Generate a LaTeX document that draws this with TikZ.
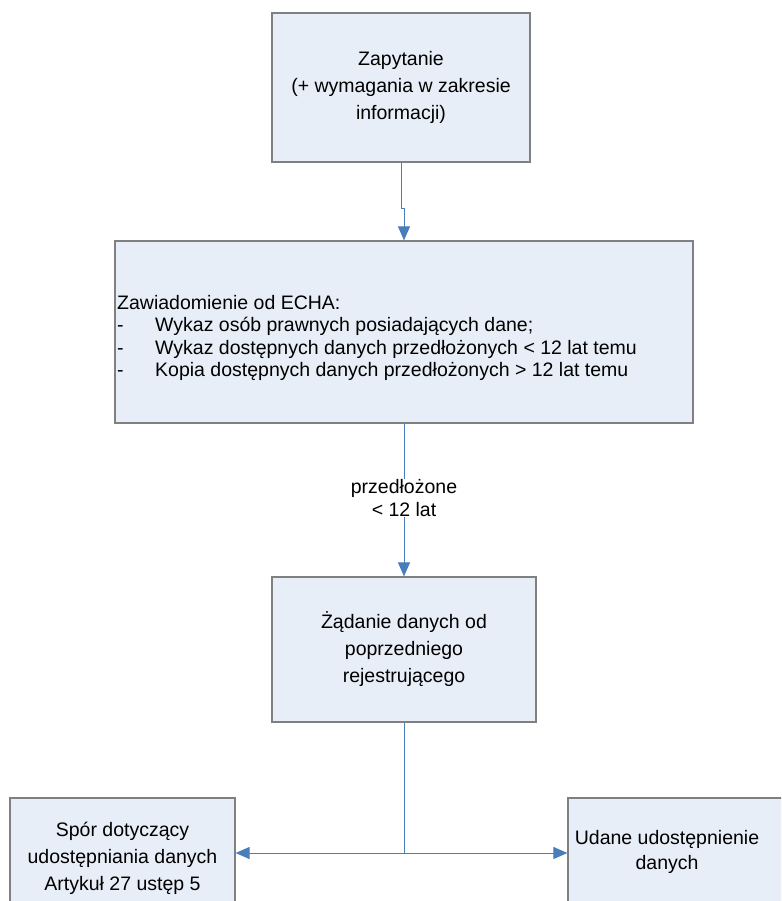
\documentclass[tikz,border=0pt]{standalone}
\usepackage{fontspec}
\setmainfont{Liberation Sans}
\usetikzlibrary{arrows.meta}
\definecolor{boxfill}{HTML}{E8EEF7}
\definecolor{boxline}{HTML}{808080}
\definecolor{arrblue}{HTML}{4A7EBB}
\begin{document}
\begin{tikzpicture}[x=1pt,y=-1pt,
  box/.style={draw=boxline,fill=boxfill,line width=1.2pt,inner sep=0pt,
    font=\fontsize{19.5}{27}\selectfont,align=center},
  lbl/.style={font=\fontsize{19.5}{23}\selectfont,align=center,inner sep=0pt},
  arr/.style={draw=arrblue,line width=1pt,-{Triangle[width=12pt,length=14pt]}},
  ln/.style={draw=arrblue,line width=1pt}]
\useasboundingbox (0,0) rectangle (781,901);
\clip (0,0) rectangle (781,901);
\fill[white] (0,0) rectangle (781,901);
% boxes
\node[box,minimum width=258,minimum height=149] (b1) at (401,87.5)
  {Zapytanie\\(+ wymagania w zakresie\\informacji)};
\node[box,minimum width=578,minimum height=182] (b2) at (404,332) {};
\node[lbl,anchor=west,align=left,font=\fontsize{19.5}{22.5}\selectfont] (b2t) at (117,338)
  {Zawiadomienie od ECHA:\\
   \makebox[38pt][l]{-}Wykaz osób prawnych posiadających dane;\\
   \makebox[38pt][l]{-}Wykaz dostępnych danych przedłożonych < 12 lat temu\\
   \makebox[38pt][l]{-}Kopia dostępnych danych przedłożonych > 12 lat temu};
\node[box,minimum width=264,minimum height=145] (b3) at (404,649.5)
  {Żądanie danych od\\poprzedniego\\rejestrującego};
\node[box,minimum width=225,minimum height=120] (b4) at (122.5,858)
  {Spór dotyczący\\udostępniania danych\\Artykuł 27 ustęp 5};
\node[box,minimum width=232,minimum height=120] (b5) at (684,858) {};
\node[lbl,font=\fontsize{19.5}{25}\selectfont] (b5t) at (667,852)
  {Udane udostępnienie\\danych};
% connectors
\draw[arr] (b1.south) -- ++(0,46) -| (b2.north);
\node[lbl] (l2) at (404,498) {przedłożone\\< 12 lat};
\draw[ln] (b2.south) -- (l2.north);
\draw[arr] (l2.south) -- (b3.north);
\coordinate (j) at (404,853);
\draw[ln] (b3.south) -- (j);
\draw[arr] (j) -- (j -| b4.east);
\draw[arr] (j) -- (j -| b5.west);
\end{tikzpicture}
\end{document}
